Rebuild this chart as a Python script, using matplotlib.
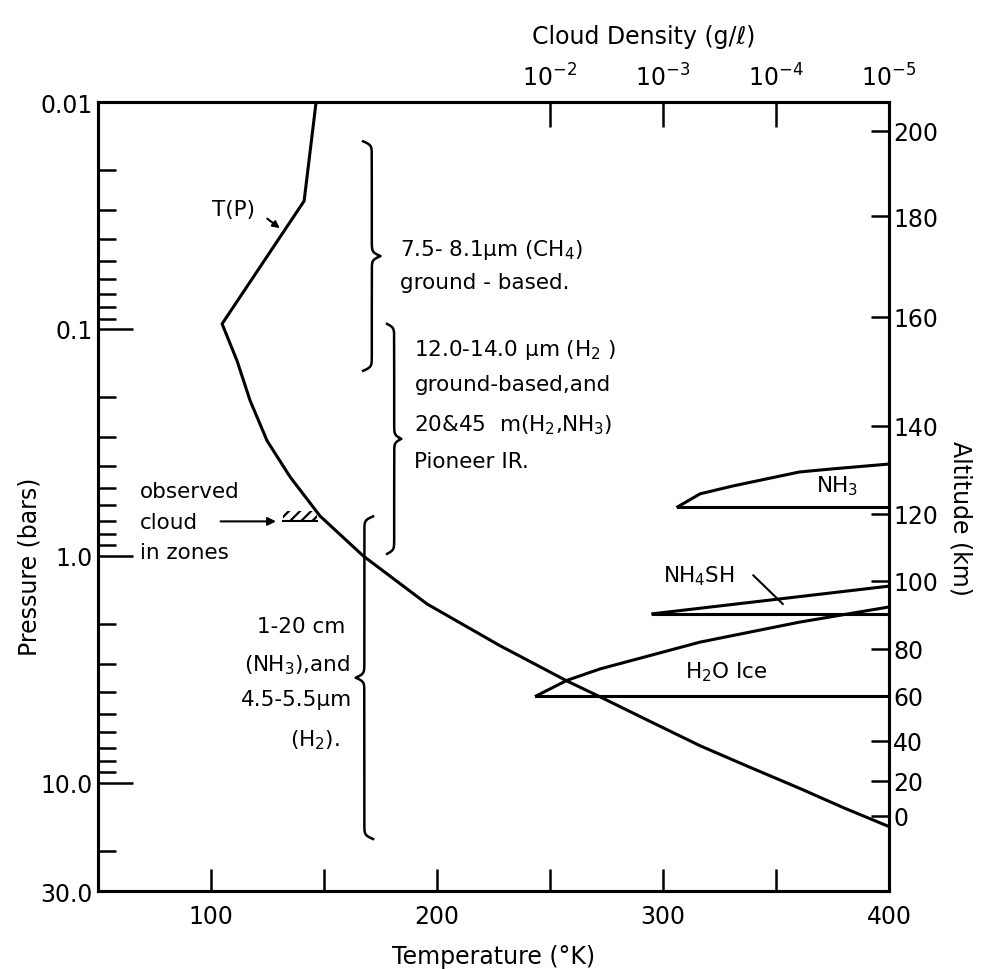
import numpy as np
import matplotlib
matplotlib.use("Agg")
import matplotlib.pyplot as plt
from matplotlib.patches import Rectangle

# temperature profile T(P)
tp_temp = [146.5, 141.2, 104.9, 111.5, 117.3, 124.8, 135.0, 148.2, 167.3,
           195.6, 227.9, 257.5, 272.1, 294.0, 316.4, 338.5, 360.6, 380.0, 400.0]
tp_pres = [0.01, 0.0273, 0.095, 0.138, 0.207, 0.311, 0.449, 0.667, 1.0,
           1.63, 2.49, 3.56, 4.18, 5.35, 6.87, 8.55, 10.6, 12.9, 15.6]

# cloud layers: density (g/l) vs pressure (bars)
nh3_rho = [7.4e-4, 4.7e-4, 2.4e-4, 6.2e-5, 3.2e-5, 1e-5]
nh3_top = [0.608, 0.533, 0.492, 0.427, 0.414, 0.394]
nh3_base = 0.608

nh4sh_rho = [1.23e-3, 1e-5]
nh4sh_top = [1.80, 1.36]
nh4sh_base = 1.80

h2o_rho = [1.32e-2, 7.1e-3, 3.6e-3, 4.7e-4, 6.2e-5, 1e-5]
h2o_top = [4.14, 3.54, 3.15, 2.40, 1.96, 1.68]
h2o_base = 4.14

# axes ticks
temp_ticks = [100, 150, 200, 250, 300, 350, 400]
temp_labels = ["100", "", "200", "", "300", "", "400"]
pres_major = [0.01, 0.1, 1.0, 10.0, 30.0]
pres_labels = ["0.01", "0.1", "1.0", "10.0", "30.0"]
pres_minor = [0.02, 0.03, 0.04, 0.05, 0.06, 0.07, 0.08, 0.09,
              0.2, 0.3, 0.4, 0.5, 0.6, 0.7, 0.8, 0.9,
              2, 3, 4, 5, 6, 7, 8, 9, 20]
rho_ticks = [1e-2, 1e-3, 1e-4, 1e-5]
rho_labels = [r"$10^{-2}$", r"$10^{-3}$", r"$10^{-4}$", r"$10^{-5}$"]
alt_km = [200, 180, 160, 140, 120, 100, 80, 60, 40, 20, 0]
alt_pres = [0.0134, 0.0318, 0.0885, 0.267, 0.653, 1.29, 2.57, 4.14, 6.53, 9.8, 13.97]

plt.rcParams['font.family'] = ['DejaVu Sans']
plt.rcParams['hatch.linewidth'] = 1.6
LW = 2.2
TS = 17
AS = 15.5

fig = plt.figure(figsize=(9.88, 9.70), dpi=100)
ax = fig.add_axes([0.0992, 0.0804, 0.8006, 0.8134])
ax.set_xlim(50, 400)
ax.set_yscale('log')
ax.set_ylim(30, 0.01)
for s in ax.spines.values():
    s.set_linewidth(2.2)

ax.set_xticks(temp_ticks)
ax.set_xticklabels(temp_labels)
ax.tick_params(axis='x', direction='in', length=16, width=1.8, labelsize=TS, pad=9)
ax.set_yticks(pres_major)
ax.set_yticklabels(pres_labels)
ax.set_yticks(pres_minor, minor=True)
ax.yaxis.set_minor_formatter(plt.NullFormatter())
ax.tick_params(axis='y', which='major', direction='in', length=25, width=1.8, labelsize=TS, pad=4)
ax.tick_params(axis='y', which='minor', direction='in', length=13, width=1.8)
ax.set_xlabel("Temperature (°K)", fontsize=TS, labelpad=12)
ax.set_ylabel("Pressure (bars)", fontsize=TS)
ax.yaxis.set_label_coords(-0.072, 0.412)

# T(P) profile
ax.plot(tp_temp, tp_pres, color='black', lw=LW)

# top axis: cloud density
ax2 = ax.twiny()
ax2.set_xscale('log')
ax2.set_xlim(1e2, 1e-5)
ax2.set_xticks(rho_ticks)
ax2.set_xticklabels(rho_labels)
ax2.xaxis.set_minor_locator(plt.NullLocator())
ax2.tick_params(axis='x', direction='in', length=18, width=1.8, labelsize=TS, pad=8)
ax2.set_xlabel("Cloud Density (g/ℓ)", fontsize=TS, labelpad=10)
ax2.xaxis.set_label_coords(0.69, 1.075)
for s in ax2.spines.values():
    s.set_linewidth(2.2)

for rho, top, base in [(nh3_rho, nh3_top, nh3_base),
                       (nh4sh_rho, nh4sh_top, nh4sh_base),
                       (h2o_rho, h2o_top, h2o_base)]:
    ax2.plot(rho, top, color='black', lw=LW)
    ax2.plot([rho[0], rho[-1]], [base, base], color='black', lw=LW)

# right axis: altitude
ax3 = ax.twinx()
ax3.set_yscale('log')
ax3.set_ylim(30, 0.01)
ax3.set_yticks(alt_pres)
ax3.set_yticklabels([str(a) for a in alt_km])
ax3.yaxis.set_minor_locator(plt.NullLocator())
ax3.tick_params(axis='y', direction='in', length=13, width=1.8, labelsize=TS, pad=3)
ax3.set_ylabel("Altitude (km)", fontsize=TS, rotation=-90)
ax3.yaxis.set_label_coords(1.105, 0.474)


def brace(x0, p0, p1, w, side):
    inv = ax.transAxes.inverted()
    xa, ya0 = inv.transform(ax.transData.transform((x0, p0)))
    _, ya1 = inv.transform(ax.transData.transform((x0, p1)))
    lo, hi = sorted((ya0, ya1))
    half = np.linspace(0, (hi - lo) / 2, 300)
    beta = 420
    prof = 1 / (1 + np.exp(-beta * (half - half[0]))) + 1 / (1 + np.exp(-beta * (half - half[-1])))
    xs = xa + side * w * (np.concatenate([prof, prof[::-1]]) - 0.5)
    ys = np.concatenate([lo + half, lo + (hi - lo) / 2 + half])
    ax.plot(xs, ys, transform=ax.transAxes, color='black', lw=1.8)


brace(167.3, 0.0149, 0.153, 0.022, 1)
brace(177.9, 0.095, 0.98, 0.018, 1)
brace(171.7, 0.67, 17.7, 0.022, -1)

# brace texts
ax.text(183.5, 0.0445, "7.5- 8.1μm (CH$_4$)", fontsize=AS, va='center')
ax.text(183.5, 0.062, "ground - based.", fontsize=AS, va='center')
ax.text(190, 0.122, "12.0-14.0 μm (H$_2$ )", fontsize=AS, va='center')
ax.text(190, 0.175, "ground-based,and", fontsize=AS, va='center')
ax.text(190, 0.262, "20&45  m(H$_2$,NH$_3$)", fontsize=AS, va='center')
ax.text(190, 0.381, "Pioneer IR.", fontsize=AS, va='center')
ax.text(140, 2.03, "1-20 cm", fontsize=AS, va='center', ha='center')
ax.text(138, 2.99, "(NH$_3$),and", fontsize=AS, va='center', ha='center')
ax.text(138, 4.27, "4.5-5.5μm", fontsize=AS, va='center', ha='center')
ax.text(146, 6.4, "(H$_2$).", fontsize=AS, va='center', ha='center')

# T(P) label
ax.text(110, 0.0296, "T(P)", fontsize=AS, va='center', ha='center')
ax.annotate("", xy=(131.4, 0.0366), xytext=(123.9, 0.0321),
            arrowprops=dict(arrowstyle='-|>', color='black', lw=1.5, mutation_scale=10))

# observed cloud
ax.text(68.6, 0.517, "observed", fontsize=AS, va='center')
ax.text(68.6, 0.708, "cloud", fontsize=AS, va='center')
ax.text(68.6, 0.96, "in zones", fontsize=AS, va='center')
ax.annotate("", xy=(130, 0.705), xytext=(103, 0.705),
            arrowprops=dict(arrowstyle='-|>', color='black', lw=1.5, mutation_scale=12))
ax.add_patch(Rectangle((132, 0.635), 15, 0.07, hatch='///', fill=False, lw=0))
ax.plot([132, 147], [0.705, 0.705], color='black', lw=1.5)

# cloud labels
ax.text(377, 0.49, "NH$_3$", fontsize=AS, va='center', ha='center')
ax.text(316, 1.22, "NH$_4$SH", fontsize=AS, va='center', ha='center')
ax.plot([340, 353], [1.22, 1.63], color='black', lw=1.5)
ax.text(328, 3.24, "H$_2$O Ice", fontsize=AS, va='center', ha='center')

fig.savefig("out.png", dpi=100)
